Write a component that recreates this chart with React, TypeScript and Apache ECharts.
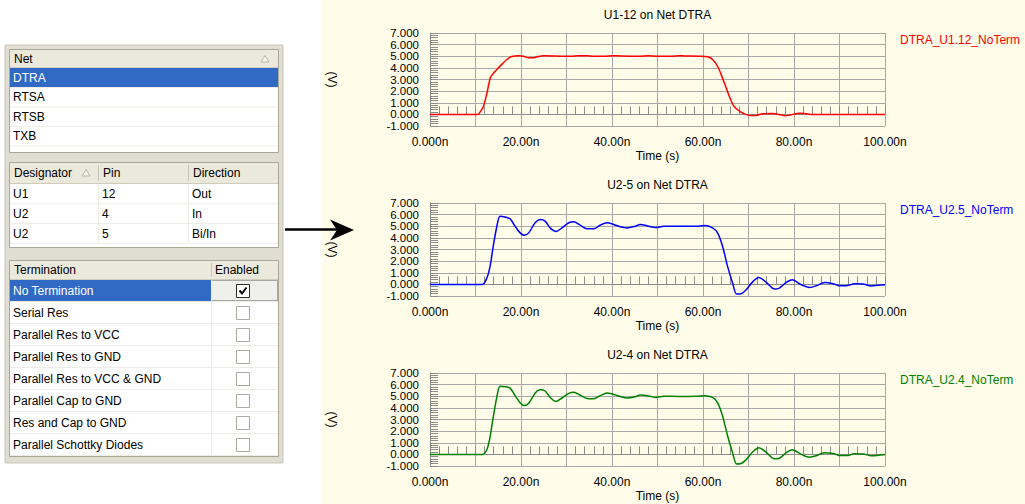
import { useEffect, useRef } from "react";
import * as echarts from "echarts";

// ---------- data ----------
const netNames = ["DTRA", "RTSA", "RTSB", "TXB"];
const selectedNet = 0;
const designators = ["U1", "U2", "U2"];
const pinNumbers = ["12", "4", "5"];
const pinDirections = ["Out", "In", "Bi/In"];
const terminations = [
  "No Termination",
  "Serial Res",
  "Parallel Res to VCC",
  "Parallel Res to GND",
  "Parallel Res to VCC & GND",
  "Parallel Cap to GND",
  "Res and Cap to GND",
  "Parallel Schottky Diodes",
];
const terminationEnabled = [true, false, false, false, false, false, false, false];
const selectedTermination = 0;

const chartTitles = ["U1-12 on Net DTRA", "U2-5 on Net DTRA", "U2-4 on Net DTRA"];
const seriesNames = ["DTRA_U1.12_NoTerm", "DTRA_U2.5_NoTerm", "DTRA_U2.4_NoTerm"];
const seriesColors = ["#ff0000", "#0000ff", "#008000"];
const xTickValues = [0, 20, 40, 60, 80, 100];
const xTickLabels = ["0.000n", "20.00n", "40.00n", "60.00n", "80.00n", "100.00n"];
const yTickValues = [-1, 0, 1, 2, 3, 4, 5, 6, 7];
const yTickLabels = ["-1.000", "0.000", "1.000", "2.000", "3.000", "4.000", "5.000", "6.000", "7.000"];

// time in ns, voltage in V
const timeU1_12 = [0, 10.5, 11.2, 11.8, 12.5, 13.3, 14.0, 14.8, 15.8, 16.9, 18.0, 19.5, 20.5, 21.5, 22.8, 23.8, 25.0, 27.0, 29.0, 31.0, 32.5, 34.5, 36.0, 38.5, 40.0, 42.0, 46.0, 48.0, 50.0, 53.0, 54.8, 56.0, 59.0, 61.0, 62.1, 63.2, 64.0, 65.1, 65.8, 66.7, 67.6, 68.7, 70.2, 71.7, 73.1, 75.3, 76.8, 78.1, 79.4, 81.2, 82.3, 84.1, 100];
const voltU1_12 = [0, 0, 0.3, 0.75, 1.8, 3.2, 3.55, 3.9, 4.3, 4.72, 4.98, 5.05, 5.0, 4.88, 4.88, 4.98, 5.04, 5.03, 5.0, 5.0, 5.05, 5.04, 5.0, 5.0, 5.05, 5.02, 5.0, 5.05, 5.0, 5.0, 5.05, 5.02, 5.0, 4.95, 4.72, 4.14, 3.42, 2.27, 1.55, 0.75, 0.4, 0.12, -0.09, -0.09, 0.06, 0.07, -0.02, -0.12, -0.03, 0.09, 0.07, -0.01, -0.02];

const timeU2_5 = [0, 11.5, 12.5, 13.2, 13.9, 14.7, 15.4, 16.5, 17.6, 18.7, 19.8, 20.7, 21.7, 23.1, 24.2, 25.3, 26.4, 27.7, 29.0, 30.5, 31.6, 33.0, 34.5, 36.0, 37.4, 38.9, 40.4, 41.8, 43.3, 45.1, 46.2, 48.1, 49.5, 51.4, 54.8, 58.5, 60.3, 62.1, 63.2, 64.3, 65.4, 66.5, 67.4, 68.4, 69.5, 71.0, 72.3, 73.9, 75.7, 76.8, 78.3, 79.6, 81.6, 83.4, 84.9, 86.7, 88.6, 90.0, 91.5, 93.3, 95.2, 97.0, 98.5, 100];
const voltU2_5 = [0, 0, 0.55, 1.55, 3.28, 5.0, 5.87, 5.8, 5.64, 5.0, 4.43, 4.23, 4.43, 5.3, 5.58, 5.44, 4.86, 4.55, 4.86, 5.3, 5.38, 5.09, 4.78, 4.78, 5.09, 5.3, 5.15, 4.95, 4.86, 5.0, 5.15, 5.0, 4.89, 5.0, 5.0, 5.0, 5.06, 4.86, 4.43, 3.28, 1.55, 0.12, -0.83, -0.8, -0.46, 0.26, 0.6, 0.17, -0.4, -0.32, 0.17, 0.4, -0.03, -0.26, -0.12, 0.17, 0.06, -0.12, -0.12, 0.06, 0.03, -0.14, -0.08, -0.03];

const timeU2_4 = [0, 11.5, 12.5, 13.2, 13.9, 14.7, 15.4, 16.5, 17.6, 18.7, 19.8, 20.7, 21.7, 23.1, 24.2, 25.3, 26.4, 27.7, 29.0, 30.5, 31.6, 33.0, 34.5, 36.0, 37.4, 38.9, 40.4, 41.8, 43.3, 45.1, 46.2, 48.1, 49.5, 51.4, 54.8, 58.5, 60.3, 62.1, 63.2, 64.3, 65.4, 66.5, 67.4, 68.4, 69.5, 71.0, 72.3, 73.9, 75.7, 76.8, 78.3, 79.6, 81.6, 83.4, 84.9, 86.7, 88.6, 90.0, 91.5, 93.3, 95.2, 97.0, 98.5, 100];
const voltU2_4 = [0, 0, 0.4, 1.5, 3.2, 4.95, 5.85, 5.82, 5.7, 5.05, 4.45, 4.2, 4.4, 5.25, 5.55, 5.45, 4.9, 4.55, 4.85, 5.25, 5.35, 5.1, 4.8, 4.78, 5.05, 5.28, 5.15, 4.98, 4.85, 4.95, 5.1, 5.02, 4.9, 5.0, 4.98, 5.0, 5.05, 4.9, 4.45, 3.3, 1.6, 0.15, -0.82, -0.78, -0.45, 0.25, 0.58, 0.18, -0.38, -0.33, 0.15, 0.4, 0.0, -0.25, -0.12, 0.15, 0.08, -0.1, -0.1, 0.05, 0.03, -0.12, -0.08, -0.02];

const seriesTimes = [timeU1_12, timeU2_5, timeU2_4];
const seriesVolts = [voltU1_12, voltU2_5, voltU2_4];

// ---------- helpers ----------
const FF = '"Liberation Sans", Arial, Helvetica, sans-serif';
const FONT = `12px ${FF}`;

function txt(x: number, y: number, text: string, fill = "#000", align = "left", font = FONT) {
  return { type: "text", x, y, silent: true, style: { text, font, fill, align, verticalAlign: "middle" } };
}
function rect(x: number, y: number, w: number, h: number, fill: string, stroke?: string, lineDash?: number[]) {
  return {
    type: "rect",
    silent: true,
    shape: { x, y, width: w, height: h },
    style: { fill, stroke: stroke || null, lineWidth: 1, lineDash: lineDash || null },
  };
}
function ln(x1: number, y1: number, x2: number, y2: number, stroke: string, lineWidth = 1) {
  return { type: "line", silent: true, shape: { x1, y1, x2, y2 }, style: { stroke, lineWidth } };
}
function sortGlyph(cx: number, cy: number) {
  return {
    type: "polygon",
    silent: true,
    shape: { points: [[cx - 4, cy + 3], [cx, cy - 3.5], [cx + 4, cy + 3]] },
    style: { fill: "#F4F3EE", stroke: "#B8B6A8", lineWidth: 1 },
  };
}

function buildPanel() {
  const g: any[] = [];
  const headFill = "#EBE9DC";
  const headLine = "#CFCCBC";
  const rowLine = "#EDECE6";
  const border = "#A9A798";
  g.push(rect(5, 45, 278, 418, "#E0DED3", "#C8C6BA"));

  // ---- table 1: Net ----
  g.push(rect(9.5, 49.5, 269, 103, "#fff", border));
  g.push(rect(10, 50, 268, 17.5, headFill));
  g.push(ln(10, 67.5, 278, 67.5, headLine, 1));
  g.push(txt(14, 59, "Net"));
  g.push(sortGlyph(265, 59));
  netNames.forEach((n, i) => {
    const y = 68 + i * 19.5;
    if (i === selectedNet) g.push(rect(10, y, 268, 19, "#316AC5"));
    g.push(ln(10, y + 19.5, 278, y + 19.5, rowLine));
    g.push(txt(13, y + 9.75, n, i === selectedNet ? "#fff" : "#000"));
  });

  // ---- table 2: pins ----
  g.push(rect(9.5, 162.5, 269, 85, "#fff", border));
  g.push(rect(10, 163, 268, 20, headFill));
  g.push(ln(10, 183.5, 278, 183.5, headLine, 1));
  g.push(ln(98.5, 165, 98.5, 181, "#C7C4B4"));
  g.push(ln(188.5, 165, 188.5, 181, "#C7C4B4"));
  g.push(txt(14, 173, "Designator"));
  g.push(sortGlyph(86, 173));
  g.push(txt(103, 173, "Pin"));
  g.push(txt(193, 173, "Direction"));
  const r2 = 19.8;
  designators.forEach((d, i) => {
    const y = 184 + i * r2;
    g.push(ln(10, y + r2, 278, y + r2, rowLine));
    g.push(txt(13, y + r2 / 2, d));
    g.push(txt(102, y + r2 / 2, pinNumbers[i]));
    g.push(txt(192, y + r2 / 2, pinDirections[i]));
  });
  g.push(ln(98.5, 184, 98.5, 184 + 3 * r2, rowLine));
  g.push(ln(188.5, 184, 188.5, 184 + 3 * r2, rowLine));

  // ---- table 3: termination ----
  g.push(rect(9.5, 260.5, 269, 196, "#fff", border));
  g.push(rect(10, 261, 268, 18, headFill));
  g.push(ln(10, 279.5, 278, 279.5, headLine, 1));
  g.push(ln(211.5, 263, 211.5, 277, "#C7C4B4"));
  g.push(txt(14, 270, "Termination"));
  g.push(txt(215, 270, "Enabled"));
  const r3 = 22;
  terminations.forEach((t, i) => {
    const y = 280 + i * r3;
    const sel = i === selectedTermination;
    if (sel) {
      g.push(rect(10, y, 201, r3 - 1, "#316AC5"));
      g.push(rect(211.5, y + 0.5, 66, r3 - 2, "#EFEFEC", "#555", [1, 1]));
    }
    g.push(ln(10, y + r3 - 0.5, 278, y + r3 - 0.5, rowLine));
    g.push(txt(13, y + r3 / 2, t, sel ? "#fff" : "#000"));
    const on = terminationEnabled[i];
    g.push(rect(236.5, y + 4.5, 13, 13, "#fff", on ? "#2a2a2a" : "#ADABA0"));
    if (on) {
      g.push({
        type: "polyline",
        silent: true,
        shape: { points: [[239.5, y + 10.5], [242, y + 13.5], [246.5, y + 7.5]] },
        style: { stroke: "#000", lineWidth: 2, fill: null },
      });
    }
  });
  g.push(ln(211.5, 280, 211.5, 280 + terminations.length * r3, rowLine));
  return g;
}

function buildArrow() {
  return [
    ln(285, 229.5, 340, 229.5, "#000", 2.5),
    {
      type: "polygon",
      silent: true,
      shape: { points: [[354, 230], [330, 219.5], [337, 230], [330, 240.5]] },
      style: { fill: "#000" },
    },
  ];
}

const PLOT_LEFT = 430;
const PLOT_W = 455;
const PLOT_H = 93;
const PLOT_TOPS = [33, 203, 373];

export default function App() {
  const ref = useRef<HTMLDivElement>(null);
  useEffect(() => {
    if (!ref.current) return;
    const chart = echarts.init(ref.current, undefined, { renderer: "svg" });

    const grid = PLOT_TOPS.map((top) => ({ left: PLOT_LEFT, top, width: PLOT_W, height: PLOT_H, containLabel: false }));
    const xAxis = PLOT_TOPS.map((_, i) => ({
      type: "value",
      gridIndex: i,
      min: 0,
      max: 100,
      interval: 10,
      name: "Time (s)",
      nameLocation: "middle",
      nameGap: 24,
      nameTextStyle: { color: "#000", fontSize: 12, fontFamily: FF },
      axisLine: { show: true, lineStyle: { color: "#8C8C8C", width: 1 } },
      axisTick: { show: true, inside: true, length: 8, lineStyle: { color: "#8C8C8C" } },
      minorTick: { show: true, splitNumber: 5, length: 8, lineStyle: { color: "#8C8C8C" } },
      splitLine: { show: true, lineStyle: { color: "#A8A8A8", width: 1 } },
      axisLabel: {
        color: "#000",
        fontSize: 12,
        fontFamily: FF,
        margin: 10,
        showMinLabel: true,
        showMaxLabel: true,
        formatter: (v: number) => {
          const k = xTickValues.indexOf(v);
          return k >= 0 ? xTickLabels[k] : "";
        },
      },
    }));
    const yAxis = PLOT_TOPS.map((_, i) => ({
      type: "value",
      gridIndex: i,
      min: -1,
      max: 7,
      interval: 1,
      name: "(V)",
      nameLocation: "middle",
      nameRotate: -90,
      nameGap: 92,
      nameTextStyle: { color: "#000", fontSize: 12, fontFamily: FF },
      axisLine: { show: true, lineStyle: { color: "#8C8C8C", width: 1 } },
      axisTick: { show: true, inside: true, length: 8, lineStyle: { color: "#8C8C8C" } },
      minorTick: { show: true, splitNumber: 5, length: 8, lineStyle: { color: "#8C8C8C" } },
      splitLine: { show: true, lineStyle: { color: "#A8A8A8", width: 1 } },
      // tick labels are placed below through the axis' own scale (convertToPixel)
      axisLabel: { show: false },
    }));
    const series = seriesNames.map((name, i) => ({
      type: "line",
      name,
      xAxisIndex: i,
      yAxisIndex: i,
      symbol: "none",
      showSymbol: false,
      smooth: 0.3,
      lineStyle: { color: seriesColors[i], width: 1.5 },
      itemStyle: { color: seriesColors[i] },
      data: seriesTimes[i].map((t, k) => [t, seriesVolts[i][k]]),
    }));
    const legend = seriesNames.map((name, i) => ({
      data: [name],
      left: 894,
      top: PLOT_TOPS[i] + 1,
      padding: 0,
      itemWidth: 0,
      itemHeight: 0,
      itemGap: 0,
      selectedMode: false,
      textStyle: { color: seriesColors[i], fontSize: 12, fontFamily: FF },
    }));

    const titles = chartTitles.map((t, i) => txt(PLOT_LEFT + PLOT_W / 2, PLOT_TOPS[i] - 18, t, "#000", "center"));
    const baseGraphic = [
      { type: "rect", silent: true, z: -10, shape: { x: 322, y: 0, width: 703, height: 504 }, style: { fill: "#FFFDE9" } },
      ...buildPanel(),
      ...buildArrow(),
      ...titles,
    ];

    const option: any = {
      animation: false,
      backgroundColor: "#ffffff",
      textStyle: { fontFamily: FF },
      graphic: baseGraphic,
      grid,
      xAxis,
      yAxis,
      legend,
      series,
    };
    chart.setOption(option);

    // y tick labels positioned with the y axes' scales
    const yLabelFont = `11.5px ${FF}`;
    const yLabels: any[] = [];
    PLOT_TOPS.forEach((_, gi) => {
      yTickValues.forEach((v, k) => {
        const p = chart.convertToPixel({ gridIndex: gi } as any, [0, v]) as number[];
        if (!p) return;
        yLabels.push(txt(p[0] - 11, p[1], yTickLabels[k], "#000", "right", yLabelFont));
      });
    });
    chart.setOption({ graphic: [...baseGraphic, ...yLabels] });

    return () => chart.dispose();
  }, []);
  return <div ref={ref} style={{ position: "absolute", left: 0, top: 0, width: 1025, height: 504 }} />;
}
